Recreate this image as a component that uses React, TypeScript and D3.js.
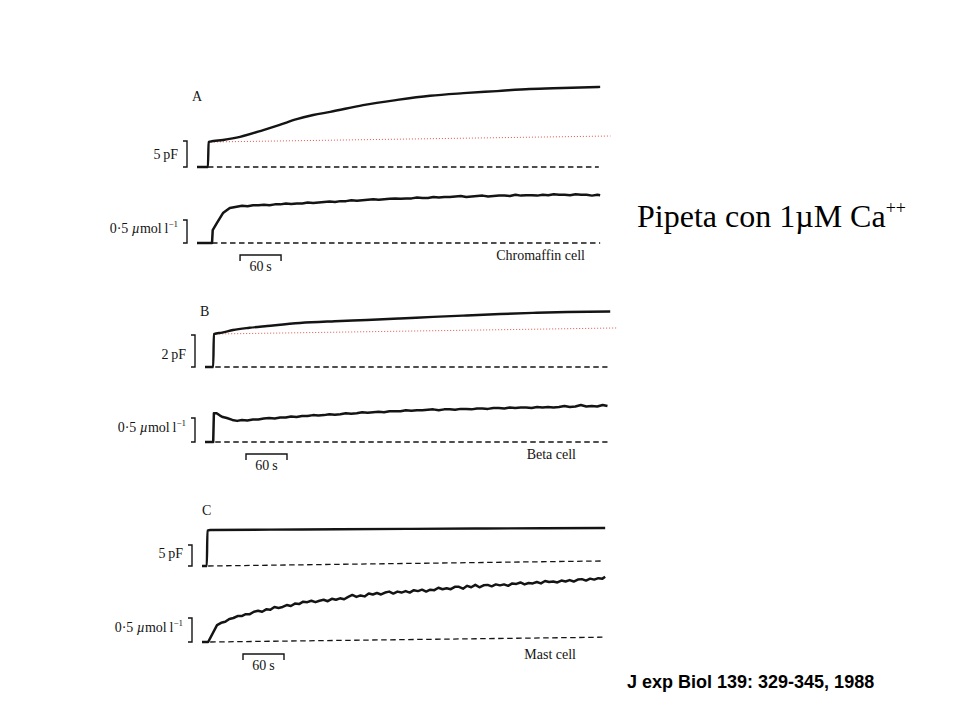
import React from "react";
import * as d3 from "d3";

type P = [number, number];

// ---------- data: [time (s), value] ----------
// capacitance (pF)
const capA: P[] = [[0,0],[16,0],[17,4.8],[19,4.87],[38,5.2],[63,5.8],[97,7.1],[121,8.1],[146,9.2],[170,10.0],[195,10.6],[243,11.9],[293,12.9],[341,13.7],[390,14.2],[439,14.6],[487,15.0],[535,15.2],[590,15.4]];
const capB: P[] = [[0,0],[12,0],[13,2.06],[25,2.15],[41,2.31],[65,2.45],[91,2.56],[139,2.75],[190,2.86],[237,2.94],[285,3.03],[334,3.13],[383,3.22],[432,3.31],[480,3.38],[530,3.44],[593,3.47]];
const capC: P[] = [[0,0],[7,0],[8,8.45],[12,8.57],[100,8.65],[200,8.75],[300,8.83],[400,8.92],[500,9.0],[590,9.05]];

// free Ca (µmol l-1)
const caA: P[] = [[0,0],[22,0],[23,0.28],[29,0.43],[38,0.65],[48,0.76],[58,0.79],[66,0.81],[74,0.8],[82,0.82],[90,0.82],[98,0.83],[106,0.82],[114,0.84],[122,0.84],[130,0.86],[138,0.85],[146,0.86],[154,0.86],[162,0.88],[170,0.87],[178,0.88],[186,0.89],[194,0.9],[202,0.89],[210,0.91],[218,0.91],[226,0.93],[234,0.92],[242,0.93],[250,0.94],[258,0.95],[266,0.94],[274,0.95],[282,0.96],[290,0.97],[298,0.96],[306,0.97],[314,0.97],[322,0.99],[330,0.98],[338,0.98],[346,1.0],[354,0.99],[362,1.0],[370,1.0],[378,1.01],[386,1.02],[394,1.0],[402,1.01],[410,1.02],[418,1.03],[426,1.01],[434,1.02],[442,1.03],[450,1.03],[458,1.02],[466,1.05],[474,1.03],[482,1.04],[490,1.04],[498,1.03],[506,1.05],[514,1.04],[522,1.06],[530,1.05],[538,1.05],[546,1.04],[554,1.06],[562,1.05],[570,1.05],[578,1.03],[586,1.05],[590,1.04]];
const caB: P[] = [[0,0],[12,0],[13,0.6],[17,0.6],[22,0.55],[26,0.52],[32,0.5],[40,0.46],[47,0.44],[54,0.46],[62,0.45],[70,0.47],[78,0.47],[86,0.49],[94,0.5],[102,0.49],[110,0.51],[118,0.51],[126,0.53],[134,0.52],[142,0.54],[150,0.54],[158,0.56],[166,0.55],[174,0.56],[182,0.58],[190,0.57],[198,0.58],[206,0.6],[214,0.59],[222,0.6],[230,0.62],[238,0.61],[246,0.62],[254,0.63],[262,0.62],[270,0.64],[278,0.64],[286,0.64],[294,0.66],[302,0.65],[310,0.66],[318,0.66],[326,0.67],[334,0.68],[342,0.66],[350,0.68],[358,0.68],[366,0.67],[374,0.69],[382,0.69],[390,0.68],[398,0.7],[406,0.7],[414,0.69],[422,0.71],[430,0.71],[438,0.7],[446,0.72],[454,0.71],[462,0.72],[470,0.72],[478,0.71],[486,0.73],[494,0.72],[502,0.73],[510,0.72],[518,0.73],[526,0.75],[534,0.73],[542,0.74],[550,0.77],[558,0.74],[566,0.75],[574,0.74],[582,0.77],[589,0.75]];
const caC: P[] = [[0,0],[9,0],[22,0.35],[28,0.4],[34,0.42],[40,0.48],[46,0.5],[52,0.54],[58,0.54],[64,0.58],[70,0.58],[76,0.63],[82,0.65],[88,0.63],[94,0.68],[100,0.67],[106,0.73],[112,0.71],[118,0.73],[124,0.77],[130,0.75],[136,0.8],[142,0.79],[148,0.84],[154,0.83],[160,0.86],[166,0.83],[172,0.86],[178,0.88],[184,0.85],[190,0.9],[196,0.88],[202,0.91],[208,0.89],[214,0.94],[220,0.98],[226,0.94],[232,0.97],[238,0.95],[244,1.01],[250,0.99],[256,1.02],[262,0.99],[268,1.03],[274,1.05],[280,1.01],[286,1.05],[292,1.03],[298,1.06],[304,1.03],[310,1.08],[316,1.06],[322,1.09],[328,1.05],[334,1.09],[340,1.08],[346,1.13],[352,1.1],[358,1.12],[364,1.1],[370,1.15],[376,1.15],[382,1.11],[388,1.17],[394,1.14],[400,1.19],[406,1.14],[412,1.18],[418,1.19],[424,1.16],[430,1.2],[436,1.18],[442,1.2],[448,1.17],[454,1.22],[460,1.21],[466,1.24],[472,1.2],[478,1.23],[484,1.22],[490,1.25],[496,1.22],[502,1.27],[508,1.25],[514,1.26],[520,1.24],[526,1.28],[532,1.26],[538,1.29],[544,1.26],[550,1.3],[556,1.31],[562,1.28],[568,1.32],[574,1.3],[580,1.33],[586,1.32],[590,1.36]];

// dashed baselines
const capBaseA: P[] = [[16,0],[588,0]];
const capBaseB: P[] = [[15,0],[589,0]];
const capBaseC: P[] = [[9,0],[586,1.2]];
const caBaseA: P[] = [[22,0],[590,0]];
const caBaseB: P[] = [[15,0],[589,0]];
const caBaseC: P[] = [[12,0],[586,0.1]];

// red dotted reference lines (initial capacitance)
const refA: P[] = [[16,4.8],[605,5.96]];
const refB: P[] = [[12,2.06],[603,2.44]];

const panelLetters = ["A", "B", "C"];
const cellNames = ["Chromaffin cell", "Beta cell", "Mast cell"];
const capScaleValues = [5, 2, 5];
const capScaleLabels = ["5\u2009pF", "2\u2009pF", "5\u2009pF"];
const caScaleValue = 0.5;
const timeBarStart = [63, 60, 60];
const timeBarLength = 60;
const timeBarLabel = "60\u2009s";
const titleMain = "Pipeta con 1\u00B5M Ca";
const titleSup = "++";
const citation = "J exp Biol 139: 329-345, 1988";

const capData = [capA, capB, capC];
const caData = [caA, caB, caC];
const capBases = [capBaseA, capBaseB, capBaseC];
const caBases = [caBaseA, caBaseB, caBaseC];
const refLines: (P[] | null)[] = [refA, refB, null];

// ---------- layout ----------
const geo = [
  { x0: 197, capBase: 167, capPx: 26, caBase: 243, caPx: 23, letterX: 192, letterY: 101, cellX: 585 },
  { x0: 205, capBase: 367, capPx: 32, caBase: 442, caPx: 24, letterX: 200, letterY: 316, cellX: 576 },
  { x0: 202, capBase: 566, capPx: 21, caBase: 642, caPx: 24, letterX: 202, letterY: 515, cellX: 576 },
];

const serif = "'Liberation Serif', 'Times New Roman', serif";
const ink = "#141414";

function Panel({ i }: { i: number }) {
  const g = geo[i];
  const x = d3.scaleLinear().domain([0, 600]).range([g.x0, g.x0 + 410]);
  const yCap = d3.scaleLinear().domain([0, capScaleValues[i]]).range([g.capBase, g.capBase - g.capPx]);
  const yCa = d3.scaleLinear().domain([0, caScaleValue]).range([g.caBase, g.caBase - g.caPx]);
  const capLine = d3.line<P>().x(d => x(d[0])).y(d => yCap(d[1])).curve(d3.curveMonotoneX);
  const capStraight = d3.line<P>().x(d => x(d[0])).y(d => yCap(d[1]));
  const caLine = d3.line<P>().x(d => x(d[0])).y(d => yCa(d[1]));
  const bx = g.x0 - 10;
  const capTop = yCap(capScaleValues[i]);
  const caTop = yCa(caScaleValue);
  const barY = g.caBase + 12;
  const b0 = x(timeBarStart[i]);
  const b1 = x(timeBarStart[i] + timeBarLength);
  const ref = refLines[i];
  return (
    <g>
      <text x={g.letterX} y={g.letterY} fontFamily={serif} fontSize={14} fill={ink}>{panelLetters[i]}</text>
      {/* capacitance */}
      <path d={capStraight(capBases[i])!} fill="none" stroke={ink} strokeWidth={1.3} strokeDasharray="5.5,3.5" />
      {ref && <path d={capStraight(ref)!} fill="none" stroke="#e0524a" strokeWidth={1} strokeDasharray="1,2" />}
      <path d={capLine(capData[i])!} fill="none" stroke={ink} strokeWidth={2.4} strokeLinejoin="round" />
      <path d={`M${bx - 4},${capTop}H${bx}V${g.capBase}H${bx - 4}`} fill="none" stroke={ink} strokeWidth={1.4} />
      <text x={bx - 9} y={g.capBase - 8} textAnchor="end" fontFamily={serif} fontSize={14} fill={ink}>{capScaleLabels[i]}</text>
      {/* calcium */}
      <path d={caLine(caBases[i])!} fill="none" stroke={ink} strokeWidth={1.3} strokeDasharray="5.5,3.5" />
      <path d={caLine(caData[i])!} fill="none" stroke={ink} strokeWidth={2.5} strokeLinejoin="round" />
      <path d={`M${bx - 4},${caTop}H${bx}V${g.caBase}H${bx - 4}`} fill="none" stroke={ink} strokeWidth={1.4} />
      <text x={bx - 9} y={g.caBase - 10} textAnchor="end" fontFamily={serif} fontSize={14} fill={ink}>
        0·5 <tspan fontStyle="italic">µ</tspan>mol{"\u2009"}l<tspan fontSize={9} dy={-6}>−1</tspan>
      </text>
      {/* time bar */}
      <path d={`M${b0},${barY + 6}V${barY}H${b1}V${barY + 6}`} fill="none" stroke={ink} strokeWidth={1.4} />
      <text x={(b0 + b1) / 2} y={barY + 16} textAnchor="middle" fontFamily={serif} fontSize={14} fill={ink}>{timeBarLabel}</text>
      <text x={g.cellX} y={g.caBase + 17} textAnchor="end" fontFamily={serif} fontSize={14} fill={ink}>{cellNames[i]}</text>
    </g>
  );
}

export default function App() {
  return (
    <svg width={960} height={720} style={{ position: "absolute", left: 0, top: 0, background: "#fff" }}>
      <rect width={960} height={720} fill="#fff" />
      {[0, 1, 2].map(i => <Panel key={i} i={i} />)}
      <text x={637} y={227} fontFamily={serif} fontSize={32} fill="#000">
        {titleMain}<tspan fontSize={18} dy={-13}>{titleSup}</tspan>
      </text>
      <text x={627} y={688} fontFamily="'Liberation Sans', Arial, sans-serif" fontWeight="bold" fontSize={18} fill="#000">{citation}</text>
    </svg>
  );
}
